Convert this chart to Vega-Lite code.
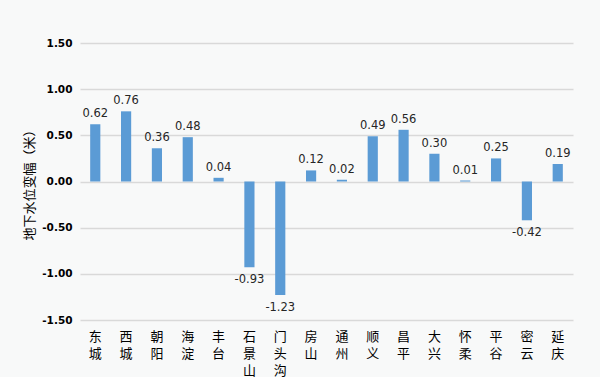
{
  "$schema": "https://vega.github.io/schema/vega-lite/v6.json",
  "width": 493,
  "height": 277,
  "autosize": "none",
  "padding": {"left": 80, "top": 43, "right": 27, "bottom": 57},
  "background": "#f8f9f9",
  "config": {
    "view": {"stroke": null},
    "locale": {"number": {"decimal": ".", "thousands": ",", "grouping": [3], "currency": ["$", ""], "minus": "-"}}
  },
  "data": {"values": [
    {"d": "东城", "v": 0.62},
    {"d": "西城", "v": 0.76},
    {"d": "朝阳", "v": 0.36},
    {"d": "海淀", "v": 0.48},
    {"d": "丰台", "v": 0.04},
    {"d": "石景山", "v": -0.93},
    {"d": "门头沟", "v": -1.23},
    {"d": "房山", "v": 0.12},
    {"d": "通州", "v": 0.02},
    {"d": "顺义", "v": 0.49},
    {"d": "昌平", "v": 0.56},
    {"d": "大兴", "v": 0.30},
    {"d": "怀柔", "v": 0.01},
    {"d": "平谷", "v": 0.25},
    {"d": "密云", "v": -0.42},
    {"d": "延庆", "v": 0.19}
  ]},
  "encoding": {
    "x": {
      "field": "d", "type": "nominal", "sort": null,
      "scale": {"paddingInner": 0.67, "paddingOuter": 0.33},
      "axis": {
        "title": null, "labelAngle": 0, "domain": false, "ticks": false,
        "labelPadding": 10,
        "labelExpr": "split(datum.label, '')",
        "labelFont": "Noto Sans CJK SC", "labelFontSize": 13, "labelColor": "#000000",
        "labelLineHeight": 17, "labelBaseline": "top"
      }
    },
    "y": {
      "field": "v", "type": "quantitative",
      "scale": {"domain": [-1.5, 1.5], "nice": false},
      "axis": {
        "title": "地下水位变幅（米）",
        "titleFont": "Noto Sans CJK SC", "titleFontSize": 13, "titleFontWeight": "normal",
        "titleColor": "#000000", "titlePadding": 5,
        "values": [-1.5, -1, -0.5, 0, 0.5, 1, 1.5], "format": ".2f",
        "labelFont": "DejaVu Sans", "labelFontSize": 10.5, "labelFontWeight": "bold",
        "labelColor": "#000000", "labelPadding": 8,
        "domain": false, "ticks": false,
        "gridColor": "#d9d9d9", "gridWidth": 1.5
      }
    }
  },
  "layer": [
    {"mark": {"type": "bar", "color": "#5b9bd5"}},
    {
      "transform": [{"filter": "datum.v >= 0"}],
      "mark": {"type": "text", "baseline": "bottom", "dy": -5, "font": "DejaVu Sans", "fontSize": 11.5, "color": "#262626"},
      "encoding": {"text": {"field": "v", "type": "quantitative", "format": ".2f"}}
    },
    {
      "transform": [{"filter": "datum.v < 0"}],
      "mark": {"type": "text", "baseline": "top", "dy": 7, "font": "DejaVu Sans", "fontSize": 11.5, "color": "#262626"},
      "encoding": {"text": {"field": "v", "type": "quantitative", "format": ".2f"}}
    }
  ]
}
